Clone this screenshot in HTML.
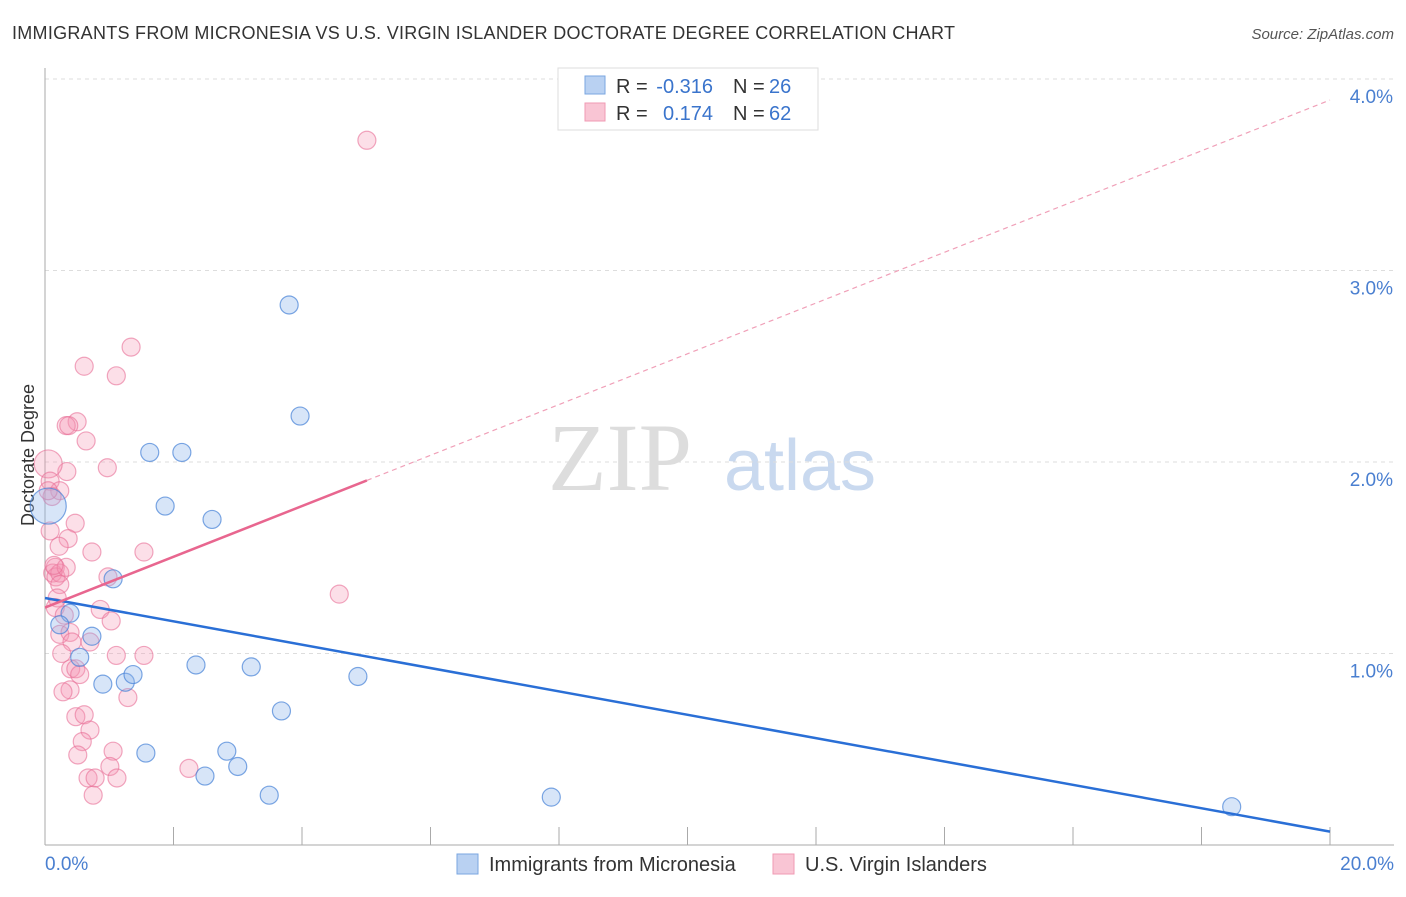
<!DOCTYPE html>
<html><head><meta charset="utf-8"><style>
body{margin:0;background:#fff;font-family:"Liberation Sans",sans-serif}
svg text{font-family:"Liberation Sans",sans-serif}
</style></head><body>
<svg id="chart" width="1406" height="892">
<text x="12" y="39" font-size="18" fill="#333" textLength="943">IMMIGRANTS FROM MICRONESIA VS U.S. VIRGIN ISLANDER DOCTORATE DEGREE CORRELATION CHART</text>
<text x="1394" y="39" font-size="15" fill="#555" font-style="italic" text-anchor="end">Source: ZipAtlas.com</text>
<text x="620" y="490" font-size="96" fill="#ddd" text-anchor="middle" style="font-family:'Liberation Serif',serif">ZIP</text>
<text x="800" y="490" font-size="72" fill="#c9d9ef" text-anchor="middle">atlas</text>
<text transform="translate(34,455) rotate(-90)" font-size="18" fill="#333" text-anchor="middle">Doctorate Degree</text>
<g id="grid"></g><g id="axes"></g><g id="pts"></g><g id="lines"></g>
<g>
<rect x="558" y="68" width="260" height="62" fill="#fff" stroke="#ddd"/>
<rect x="585" y="76" width="20" height="18" fill="#b9d1f2" stroke="#7aa6e0"/>
<rect x="585" y="103" width="20" height="18" fill="#f9c5d4" stroke="#f09ab3"/>
<text x="616" y="93" font-size="20" fill="#333">R =</text>
<text x="713" y="93" font-size="20" fill="#3a74cc" text-anchor="end">-0.316</text>
<text x="733" y="93" font-size="20" fill="#333">N =</text>
<text x="769" y="93" font-size="20" fill="#3a74cc">26</text>
<text x="616" y="120" font-size="20" fill="#333">R =</text>
<text x="713" y="120" font-size="20" fill="#3a74cc" text-anchor="end">0.174</text>
<text x="733" y="120" font-size="20" fill="#333">N =</text>
<text x="769" y="120" font-size="20" fill="#3a74cc">62</text>
</g>
<g>
<rect x="457" y="854" width="21" height="20" fill="#b9d1f2" stroke="#7aa6e0"/>
<text x="489" y="871" font-size="20" fill="#333">Immigrants from Micronesia</text>
<rect x="773" y="854" width="21" height="20" fill="#f9c5d4" stroke="#f09ab3"/>
<text x="805" y="871" font-size="20" fill="#333">U.S. Virgin Islanders</text>
</g>
</svg>
<script>
const yTicks=[1,2,3,4];
const yTickLabels=["1.0%","2.0%","3.0%","4.0%"];
const xTickLabels=["0.0%","20.0%"];
const blueX=[1.63,2.13,3.80,3.97,1.87,2.60,1.06,0.39,0.23,0.73,0.54,0.90,1.25,1.37,2.35,3.21,4.87,3.68,1.57,2.83,3.00,2.49,3.49,7.88,18.47,0.05];
const blueY=[2.05,2.05,2.82,2.24,1.77,1.70,1.39,1.21,1.15,1.09,0.98,0.84,0.85,0.89,0.94,0.93,0.88,0.70,0.48,0.49,0.41,0.36,0.26,0.25,0.20,1.77];
const pinkX=[5.01,1.34,0.61,1.11,0.50,0.33,0.37,0.64,0.97,0.34,0.05,0.08,0.23,0.11,0.47,0.36,0.08,0.22,0.73,1.54,0.16,0.12,0.17,0.23,0.33,0.98,0.23,0.19,4.58,0.16,0.86,1.03,0.23,0.39,0.42,0.70,1.11,1.54,0.26,0.40,0.48,0.54,0.39,0.28,1.29,0.48,0.61,0.70,0.58,0.51,1.06,1.01,2.24,0.67,0.78,1.12,0.75,0.05,0.14,0.30];
const pinkY=[3.68,2.60,2.50,2.45,2.21,2.19,2.19,2.11,1.97,1.95,1.99,1.90,1.85,1.82,1.68,1.60,1.64,1.56,1.53,1.53,1.45,1.42,1.40,1.42,1.45,1.40,1.36,1.29,1.31,1.24,1.23,1.17,1.10,1.11,1.06,1.06,0.99,0.99,1.00,0.92,0.92,0.89,0.81,0.80,0.77,0.67,0.68,0.60,0.54,0.47,0.49,0.41,0.40,0.35,0.35,0.35,0.26,1.85,1.46,1.20];
const blueTrend=[1.29,0.07];
const pinkTrend=[1.24,3.89];
const pinkSolidEnd=5.01;
const NS="http://www.w3.org/2000/svg";
const xs=v=>45+v*64.25, ys=v=>845-v*191.5;
function mk(tag,attrs,parent){const e=document.createElementNS(NS,tag);for(const k in attrs)e.setAttribute(k,attrs[k]);document.getElementById(parent).appendChild(e);return e;}
yTicks.forEach((t,i)=>{
 const g=mk('line',{x1:45,x2:1394,y1:ys(t),y2:ys(t),stroke:'#ddd','stroke-dasharray':'4,4'},'grid');
 
 
 const tx=mk('text',{x:1393,y:ys(t)+24,'font-size':19,fill:'#4a7fd0','text-anchor':'end'},'grid');tx.textContent=yTickLabels[i];
 
 
});
const ax=mk('line',{x1:45,x2:45,y1:68,y2:845,stroke:'#aaa'},'axes');


const bx=mk('line',{x1:45,x2:1394,y1:845,y2:845,stroke:'#aaa'},'axes');


for(let i=1;i<=10;i++){const t=mk('line',{x1:45+i*128.5,x2:45+i*128.5,y1:827,y2:845,stroke:'#aaa'},'axes');
 
 }
[[45,'start',xTickLabels[0]],[1394,'end',xTickLabels[1]]].forEach(a=>{const t=mk('text',{x:a[0],y:870,'font-size':19,fill:'#4a7fd0','text-anchor':a[1]},'axes');t.textContent=a[2];
 
 });
pinkX.forEach((v,i)=>{const r=(v<0.1&&pinkY[i]>1.9)?14:9;const c=mk('circle',{cx:xs(v),cy:ys(pinkY[i]),r:r,fill:'rgba(244,150,178,0.3)',stroke:'rgba(232,110,150,0.6)','stroke-width':1.2},'pts');
 
 });
blueX.forEach((v,i)=>{const r=(i==25)?18:9;const c=mk('circle',{cx:xs(v),cy:ys(blueY[i]),r:r,fill:'rgba(140,180,235,0.35)',stroke:'rgba(70,130,215,0.7)','stroke-width':1.2},'pts');
 
 });
const bl=mk('line',{x1:xs(0),y1:ys(blueTrend[0]),x2:xs(20),y2:ys(blueTrend[1]),stroke:'#2a6fd6','stroke-width':2.5},'lines');


const pm=v=>pinkTrend[0]+(pinkTrend[1]-pinkTrend[0])*v/20;
const ps=mk('line',{x1:xs(0),y1:ys(pm(0)),x2:xs(pinkSolidEnd),y2:ys(pm(pinkSolidEnd)),stroke:'#e8668f','stroke-width':2.5},'lines');


const pd=mk('line',{x1:xs(pinkSolidEnd),y1:ys(pm(pinkSolidEnd)),x2:xs(20),y2:ys(pm(20)),stroke:'#f0a0b8','stroke-width':1.2,'stroke-dasharray':'5,4'},'lines');


</script>
</body></html>
